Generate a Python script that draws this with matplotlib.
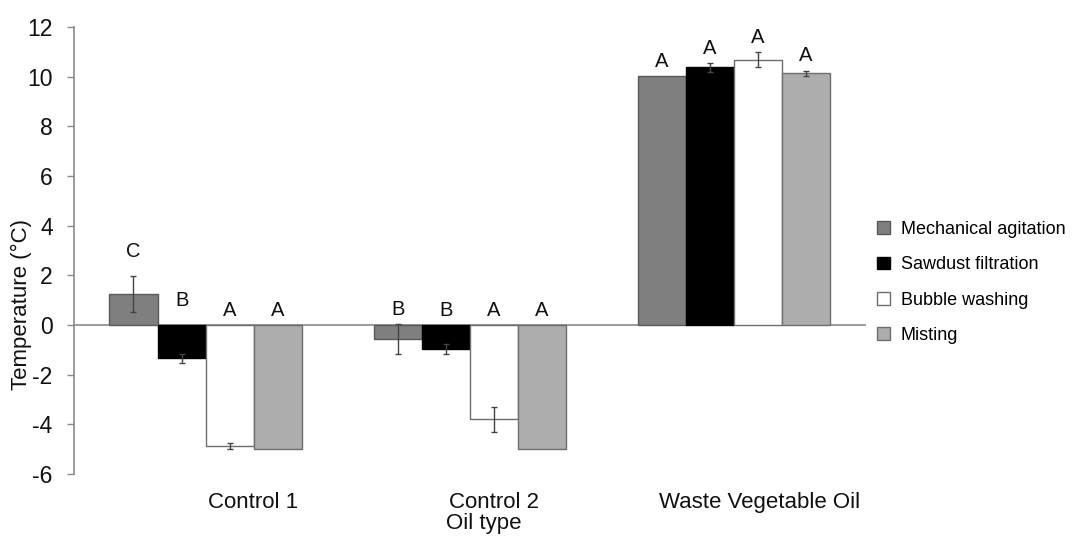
import numpy as np
import matplotlib
matplotlib.use("Agg")
import matplotlib.pyplot as plt
from matplotlib.transforms import ScaledTranslation

plt.rcParams['font.family'] = ['Liberation Sans', 'DejaVu Sans']
plt.rcParams['axes.unicode_minus'] = False

# oil types and treatment means (deg C) with standard errors
oil_types = ['Control 1', 'Control 2', 'Waste Vegetable Oil']
treatments = ['Mechanical agitation', 'Sawdust filtration', 'Bubble washing', 'Misting']

mech = [1.25, -0.57, 10.02]
mech_err = [0.73, 0.60, 0.0]
sawdust = [-1.33, -0.98, 10.38]
sawdust_err = [0.18, 0.20, 0.17]
bubble = [-4.88, -3.80, 10.69]
bubble_err = [0.13, 0.52, 0.29]
misting = [-5.0, -5.0, 10.15]
misting_err = [0.0, 0.0, 0.10]

# significance letters per treatment, in oil type order
mech_letters = ['C', 'B', 'A']
sawdust_letters = ['B', 'B', 'A']
bubble_letters = ['A', 'A', 'A']
misting_letters = ['A', 'A', 'A']

colors = ['#7f7f7f', '#000000', '#ffffff', '#adadad']
edges = ['#5a5a5a', '#000000', '#6e6e6e', '#6e6e6e']

series = [mech, sawdust, bubble, misting]
errors = [mech_err, sawdust_err, bubble_err, misting_err]
letters = [mech_letters, sawdust_letters, bubble_letters, misting_letters]

fig = plt.figure(figsize=(10.72, 5.43), dpi=100)
ax = fig.add_axes([0.0686, 0.127, 0.7392, 0.823])

x = np.arange(len(oil_types))
w = 0.182
for i, (vals, errs, labs) in enumerate(zip(series, errors, letters)):
    pos = x + (i - 1.5) * w
    ax.bar(pos, vals, width=w, color=colors[i], edgecolor=edges[i],
           linewidth=1.0, label=treatments[i], zorder=2)
    # only draw error bars where there is an error to show
    keep = np.array(errs) > 0
    ax.errorbar(pos[keep], np.array(vals)[keep], yerr=np.array(errs)[keep],
                fmt='none', ecolor='#444444', elinewidth=1.0, capsize=2.5,
                capthick=1.0, zorder=3)
    for p, v, e, s in zip(pos, vals, errs, labs):
        top = max(0, v + e)
        pad = 1.0 if s in ('C',) or (s == 'B' and v < -1.2) else 0.6
        ax.text(p, top + pad, s, ha='center', va='center', fontsize=14.5,
                color='#111111')

ax.axhline(0, color='#8a8a8a', linewidth=1.2, zorder=1)

ax.set_xlim(-0.5, 2.5)
ax.set_ylim(-6, 12)
ax.set_yticks(np.arange(-6, 13, 2))
ax.set_xticks(x)
ax.set_xticklabels(oil_types, fontsize=16, color='#111111')
ax.tick_params(axis='x', length=0, pad=13)
ax.tick_params(axis='y', length=5, width=1.0, color='#8a8a8a',
               labelsize=16.5, labelcolor='#111111', pad=10)

# nudge category labels to the right, as in the original layout
shifts = [47, 24, 26]
for lab, dx in zip(ax.get_xticklabels(), shifts):
    lab.set_transform(lab.get_transform() + ScaledTranslation(dx / 100, 0, fig.dpi_scale_trans))

for side in ['top', 'right', 'bottom']:
    ax.spines[side].set_visible(False)
ax.spines['left'].set_color('#8a8a8a')
ax.spines['left'].set_linewidth(1.2)

fig.text(484 / 1072, 1 - 523 / 543, 'Oil type', ha='center', va='center',
         fontsize=16, color='#111111')
fig.text(21 / 1072, 1 - 304 / 543, 'Temperature (\u00b0C)', rotation=90,
         ha='center', va='center', fontsize=16, color='#111111')

leg = fig.legend(loc='center left', bbox_to_anchor=(877 / 1072, 1 - 282.5 / 543),
                 frameon=False, fontsize=13, borderpad=0, borderaxespad=0,
                 handlelength=0.72, handleheight=0.72, handletextpad=0.6,
                 labelspacing=1.02)

fig.savefig('out.png', dpi=100)
